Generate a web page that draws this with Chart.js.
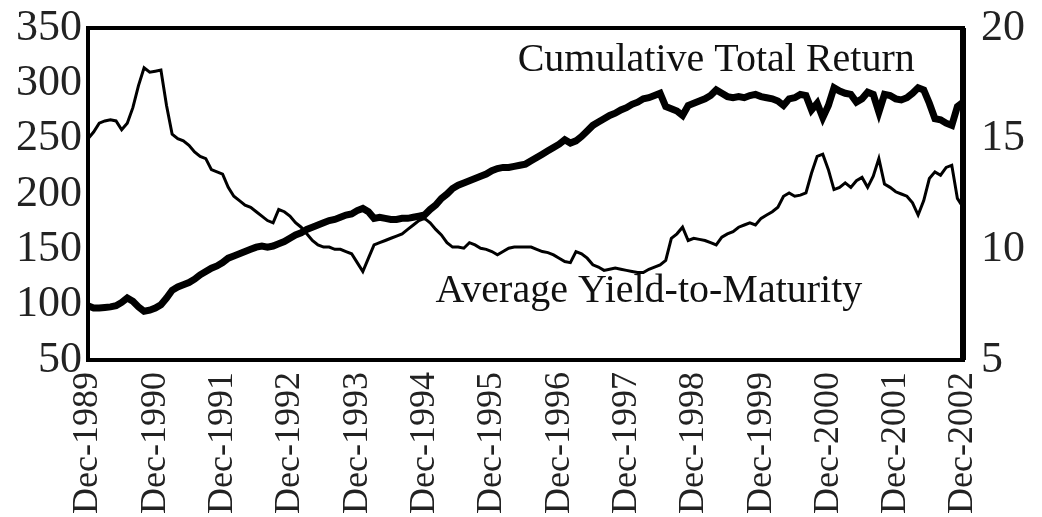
<!DOCTYPE html>
<html>
<head>
<meta charset="utf-8">
<script src="https://cdn.jsdelivr.net/npm/chart.js@4"></script>
<style>
  html, body { margin: 0; padding: 0; background: #fff; }
  #wrap { width: 1042px; height: 517px; }
</style>
</head>
<body>
<div id="wrap"><canvas id="chart"></canvas></div>
<script>
// monthly, Dec-1989 .. Dec-2002
const tickYears = [1989, 1990, 1991, 1992, 1993, 1994, 1995, 1996, 1997, 1998, 1999, 2000, 2001, 2002];

const totalReturn = [
  99, 97, 97, 97.5, 98, 99, 102, 106, 103, 98, 94, 95,
  97, 100, 106, 113, 116, 118, 120, 123, 127, 130, 133, 135,
  138, 142, 144, 146, 148, 150, 152, 153, 152, 153, 155, 157,
  160, 163, 165, 168, 170, 172, 174, 176, 177, 179, 181, 182,
  185, 187, 184, 178, 179, 178, 177, 177, 178, 178, 179, 180,
  181, 186, 190, 196, 200, 205, 208, 210, 212, 214, 216, 218,
  221, 223, 224, 224, 225, 226, 227, 230, 233, 236, 239, 242,
  245, 249, 246, 248, 252, 257, 262, 265, 268, 271, 273, 276,
  278, 281, 283, 286, 287, 289, 291, 279, 277, 275, 271, 280,
  282, 284, 286, 289, 294, 291, 288, 287, 288, 287, 289, 290,
  288, 287, 286, 284, 280, 286, 287, 290, 289, 276, 282, 269,
  280, 296, 293, 291, 290, 283, 286, 292, 290, 274, 290, 289,
  286, 285, 287, 291, 296, 294, 282, 268, 267, 264, 262, 279,
  283
];

const avgYield = [
  15.0, 15.3, 15.7, 15.8, 15.85, 15.8, 15.4, 15.7, 16.4, 17.4, 18.2, 18.0,
  18.05, 18.1, 16.5, 15.2, 15.0, 14.9, 14.7, 14.4, 14.2, 14.1, 13.6, 13.5,
  13.4, 12.8, 12.4, 12.2, 12.0, 11.9, 11.7, 11.5, 11.3, 11.2, 11.8, 11.7,
  11.5, 11.2, 11.0, 10.7, 10.4, 10.2, 10.1, 10.1, 10.0, 10.0, 9.9, 9.8,
  9.4, 9.0, 9.6, 10.2, 10.3, 10.4, 10.5, 10.6, 10.7, 10.9, 11.1, 11.3,
  11.4, 11.2, 10.9, 10.65, 10.3, 10.1, 10.1, 10.05, 10.3, 10.2, 10.05, 10.0,
  9.9, 9.75, 9.9, 10.05, 10.1, 10.1, 10.1, 10.1, 10.0, 9.9, 9.85, 9.75,
  9.6, 9.45, 9.4, 9.9, 9.8, 9.6, 9.3, 9.2, 9.05, 9.1, 9.15, 9.1,
  9.05, 9.0, 8.95, 8.95, 9.1, 9.2, 9.3, 9.5, 10.5, 10.7, 11.0, 10.4,
  10.5, 10.45, 10.4, 10.3, 10.2, 10.55, 10.7, 10.8, 11.0, 11.1, 11.2, 11.1,
  11.4, 11.55, 11.7, 11.9, 12.4, 12.55, 12.4, 12.45, 12.55, 13.45, 14.2, 14.3,
  13.6, 12.7, 12.8, 13.0, 12.8, 13.1, 13.25, 12.8, 13.3, 14.1, 12.95, 12.8,
  12.6, 12.5, 12.4, 12.1, 11.55, 12.2, 13.2, 13.5, 13.35, 13.7, 13.8, 12.3,
  11.9
];

const leftTicks = [50, 100, 150, 200, 250, 300, 350];
const rightTicks = [5, 10, 15, 20];

const seriesNames = ['Cumulative Total Return', 'Average Yield-to-Maturity'];
// where the series names sit: [month index, left-axis value]
const nameAnchors = [[112, 321], [100, 111.5]];

// month labels, only December carries text
const labels = [];
tickYears.forEach((yr, i) => {
  labels.push('Dec-' + yr);
  if (i < tickYears.length - 1) {
    for (let m = 0; m < 11; m++) labels.push('');
  }
});

const serif = '"Liberation Serif", "DejaVu Serif", serif';

const framePlugin = {
  id: 'frame',
  afterDatasetsDraw(chart) {
    const { ctx, chartArea: a, scales } = chart;
    ctx.save();
    ctx.strokeStyle = '#000';
    ctx.lineWidth = 4;
    ctx.strokeRect(a.left, a.top, a.right - a.left, a.bottom - a.top);
    ctx.lineWidth = 6;
    ctx.beginPath();
    ctx.moveTo(a.right, a.top);
    ctx.lineTo(a.right, a.bottom);
    ctx.stroke();

    ctx.fillStyle = '#111';
    ctx.font = '40px ' + serif;
    ctx.textAlign = 'center';
    ctx.textBaseline = 'middle';
    seriesNames.forEach((name, i) => {
      const x = scales.x.getPixelForValue(nameAnchors[i][0]);
      const y = scales.yL.getPixelForValue(nameAnchors[i][1]);
      ctx.fillText(name, x, y);
    });
    ctx.restore();
  }
};

new Chart(document.getElementById('chart').getContext('2d'), {
  type: 'line',
  data: {
    labels: labels,
    datasets: [
      {
        label: seriesNames[0],
        data: totalReturn,
        yAxisID: 'yL',
        borderColor: '#000',
        borderWidth: 7,
        pointRadius: 0,
        tension: 0
      },
      {
        label: seriesNames[1],
        data: avgYield,
        yAxisID: 'yR',
        borderColor: '#000',
        borderWidth: 3,
        pointRadius: 0,
        tension: 0
      }
    ]
  },
  options: {
    responsive: true,
    maintainAspectRatio: false,
    animation: false,
    layout: { padding: { top: 0, left: 0, right: 0, bottom: 0 } },
    plugins: {
      legend: { display: false },
      tooltip: { enabled: false }
    },
    scales: {
      x: {
        offset: false,
        grid: { display: false, drawTicks: false },
        border: { display: false },
        ticks: {
          autoSkip: false,
          maxRotation: 90,
          minRotation: 90,
          padding: 12,
          color: '#222',
          font: { family: serif, size: 36 },
          callback: function (v, i) { return labels[i]; }
        },
        afterFit: function (s) { s.height = 157; }
      },
      yL: {
        position: 'left',
        min: 50,
        max: 350,
        grid: { display: false, drawTicks: false },
        border: { display: false },
        afterBuildTicks: function (s) { s.ticks = leftTicks.map(v => ({ value: v })); },
        ticks: {
          autoSkip: false,
          padding: 6,
          color: '#222',
          font: { family: serif, size: 44, lineHeight: 1 }
        },
        afterFit: function (s) { s.width = 88; }
      },
      yR: {
        position: 'right',
        min: 5,
        max: 20,
        grid: { display: false, drawTicks: false },
        border: { display: false },
        afterBuildTicks: function (s) { s.ticks = rightTicks.map(v => ({ value: v })); },
        ticks: {
          autoSkip: false,
          padding: 18,
          color: '#222',
          font: { family: serif, size: 44, lineHeight: 0.45 }
        },
        afterFit: function (s) { s.width = 79; }
      }
    }
  },
  plugins: [framePlugin]
});
</script>
</body>
</html>
